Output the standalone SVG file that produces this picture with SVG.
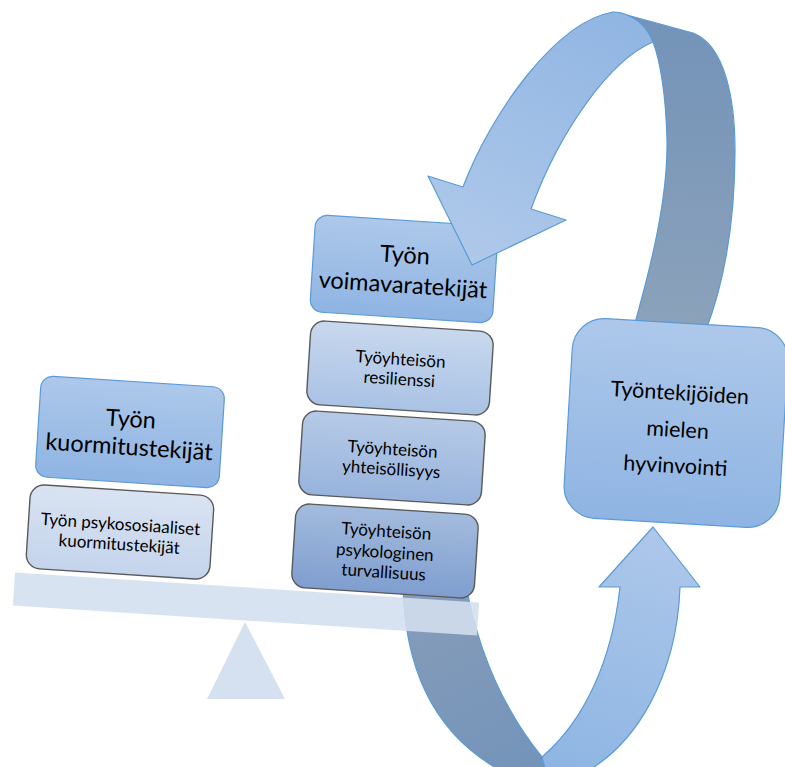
<svg xmlns="http://www.w3.org/2000/svg" width="785" height="767" viewBox="0 0 785 767">
<defs>
<linearGradient id="gBlue" x1="0" y1="0" x2="0" y2="1"><stop offset="0" stop-color="#adc8ea"/><stop offset="1" stop-color="#8fb4e3"/></linearGradient>
<linearGradient id="gB" x1="0" y1="0" x2="0" y2="1"><stop offset="0" stop-color="#d9e3f2"/><stop offset="1" stop-color="#c4d4ec"/></linearGradient>
<linearGradient id="gD" x1="0" y1="0" x2="0" y2="1"><stop offset="0" stop-color="#c8d8ee"/><stop offset="1" stop-color="#a9c2e4"/></linearGradient>
<linearGradient id="gE" x1="0" y1="0" x2="0" y2="1"><stop offset="0" stop-color="#b6cae7"/><stop offset="1" stop-color="#97b3dc"/></linearGradient>
<linearGradient id="gF" x1="0" y1="0" x2="0" y2="1"><stop offset="0" stop-color="#a3bbdd"/><stop offset="1" stop-color="#7f9ecf"/></linearGradient>
<linearGradient id="gTopLight" gradientUnits="userSpaceOnUse" x1="600" y1="10" x2="480" y2="260"><stop offset="0" stop-color="#91b6e2"/><stop offset="1" stop-color="#aec8ea"/></linearGradient>
<linearGradient id="gTopDark" gradientUnits="userSpaceOnUse" x1="690" y1="20" x2="680" y2="330"><stop offset="0" stop-color="#7393b8"/><stop offset="1" stop-color="#8ca2bb"/></linearGradient>
<linearGradient id="gBotDark" gradientUnits="userSpaceOnUse" x1="430" y1="590" x2="520" y2="770"><stop offset="0" stop-color="#879cb9"/><stop offset="1" stop-color="#7394b9"/></linearGradient>
<linearGradient id="gBotLight" gradientUnits="userSpaceOnUse" x1="650" y1="530" x2="580" y2="770"><stop offset="0" stop-color="#adc7ea"/><stop offset="1" stop-color="#8fb6e3"/></linearGradient>
</defs>
<style>
.big{font-family:Lato,"Open Sans","Liberation Sans",sans-serif;font-size:23.5px;fill:#000;text-anchor:middle}
.sm{font-family:Lato,"Open Sans","Liberation Sans",sans-serif;font-size:17px;fill:#000;text-anchor:middle}
.g{font-family:Lato,"Open Sans","Liberation Sans",sans-serif;font-size:21.5px;fill:#000;text-anchor:middle}
.blue{stroke:#5b9bd5;stroke-width:1.2}
.gray{stroke:#5a5a5a;stroke-width:1.4}
.arrow{stroke:#5b9bd5;stroke-width:1.2;stroke-linejoin:round}
</style>

<g id="connectors-back">
<path class="arrow" fill="url(#gTopDark)" d="M627,15 L693,33 C725,45 735,100 735,150 C735,220 725,280 706,330 L633,330 C650,270 668,200 667,140 C666,95 660,60 653,42 Q645,22 627,15 Z"/>
<path class="arrow" fill="url(#gBotDark)" d="M403,585 L466,585 C477,645 500,705 542,757 L548,780 L520,780 C450,750 405,690 403,585 Z"/>
</g>

<g id="node-a" transform="rotate(3.7 130 432)">
<rect class="blue" x="38" y="381.5" width="184" height="101" rx="12" fill="url(#gBlue)"/>
<text class="big" x="130" y="427">Työn</text>
<text class="big" x="130" y="455">kuormitustekijät</text>
</g>
<g id="node-b" transform="rotate(3.7 120 532)">
<rect class="gray" x="28" y="490" width="184" height="84" rx="14" fill="url(#gB)"/>
<text class="sm" x="120" y="530">Työn psykososiaaliset</text>
<text class="sm" x="120" y="550">kuormitustekijät</text>
</g>
<g id="node-c" transform="rotate(3.7 404 269)">
<rect class="blue" x="312.5" y="220.5" width="183" height="97" rx="12" fill="url(#gBlue)"/>
<text class="big" x="404" y="263">Työn</text>
<text class="big" x="404" y="293">voimavaratekijät</text>
</g>
<g id="node-d" transform="rotate(3.7 400 368)">
<rect class="gray" x="308.5" y="326" width="183" height="84" rx="14" fill="url(#gD)"/>
<text class="sm" x="400" y="365">Työyhteisön</text>
<text class="sm" x="400" y="385">resilienssi</text>
</g>
<g id="node-e" transform="rotate(3.7 392 458)">
<rect class="gray" x="300.5" y="416" width="183" height="84" rx="14" fill="url(#gE)"/>
<text class="sm" x="392" y="455">Työyhteisön</text>
<text class="sm" x="392" y="475">yhteisöllisyys</text>
</g>
<g id="node-f" transform="rotate(3.7 385 551)">
<rect class="gray" x="293.5" y="509" width="183" height="84" rx="14" fill="url(#gF)"/>
<text class="sm" x="385" y="537">Työyhteisön</text>
<text class="sm" x="385" y="558">psykologinen</text>
<text class="sm" x="385" y="578">turvallisuus</text>
</g>

<g id="beam" transform="rotate(3.7 246 604)">
<rect x="13.5" y="587.5" width="465" height="33" fill="#d3dfef" fill-opacity="0.88"/>
</g>
<polygon id="fulcrum" points="245,622 207,699 285,699" fill="#d5e0f0"/>

<g id="node-g" transform="rotate(3.4 676 423)">
<rect class="blue" x="568" y="323" width="216" height="200" rx="32" fill="url(#gBlue)"/>
<text class="g" x="678" y="400">Työntekijöiden</text>
<text class="g" x="678" y="437">mielen</text>
<text class="g" x="678" y="473">hyvinvointi</text>
</g>

<g id="connectors-front">
<path class="arrow" fill="url(#gTopLight)" d="M428,176 L463,187 C490,115 555,22 613,12 Q621,12 627,15 Q645,22 653,42 C610,60 560,130 531,209 L566,220 L472,265 Z"/>
<path class="arrow" fill="url(#gBotLight)" d="M542,757 C585,720 612,660 620,587 L599,587 L653,527 L700,587 L680,587 C677,670 640,750 570,780 L548,780 Z"/>
</g>
</svg>
